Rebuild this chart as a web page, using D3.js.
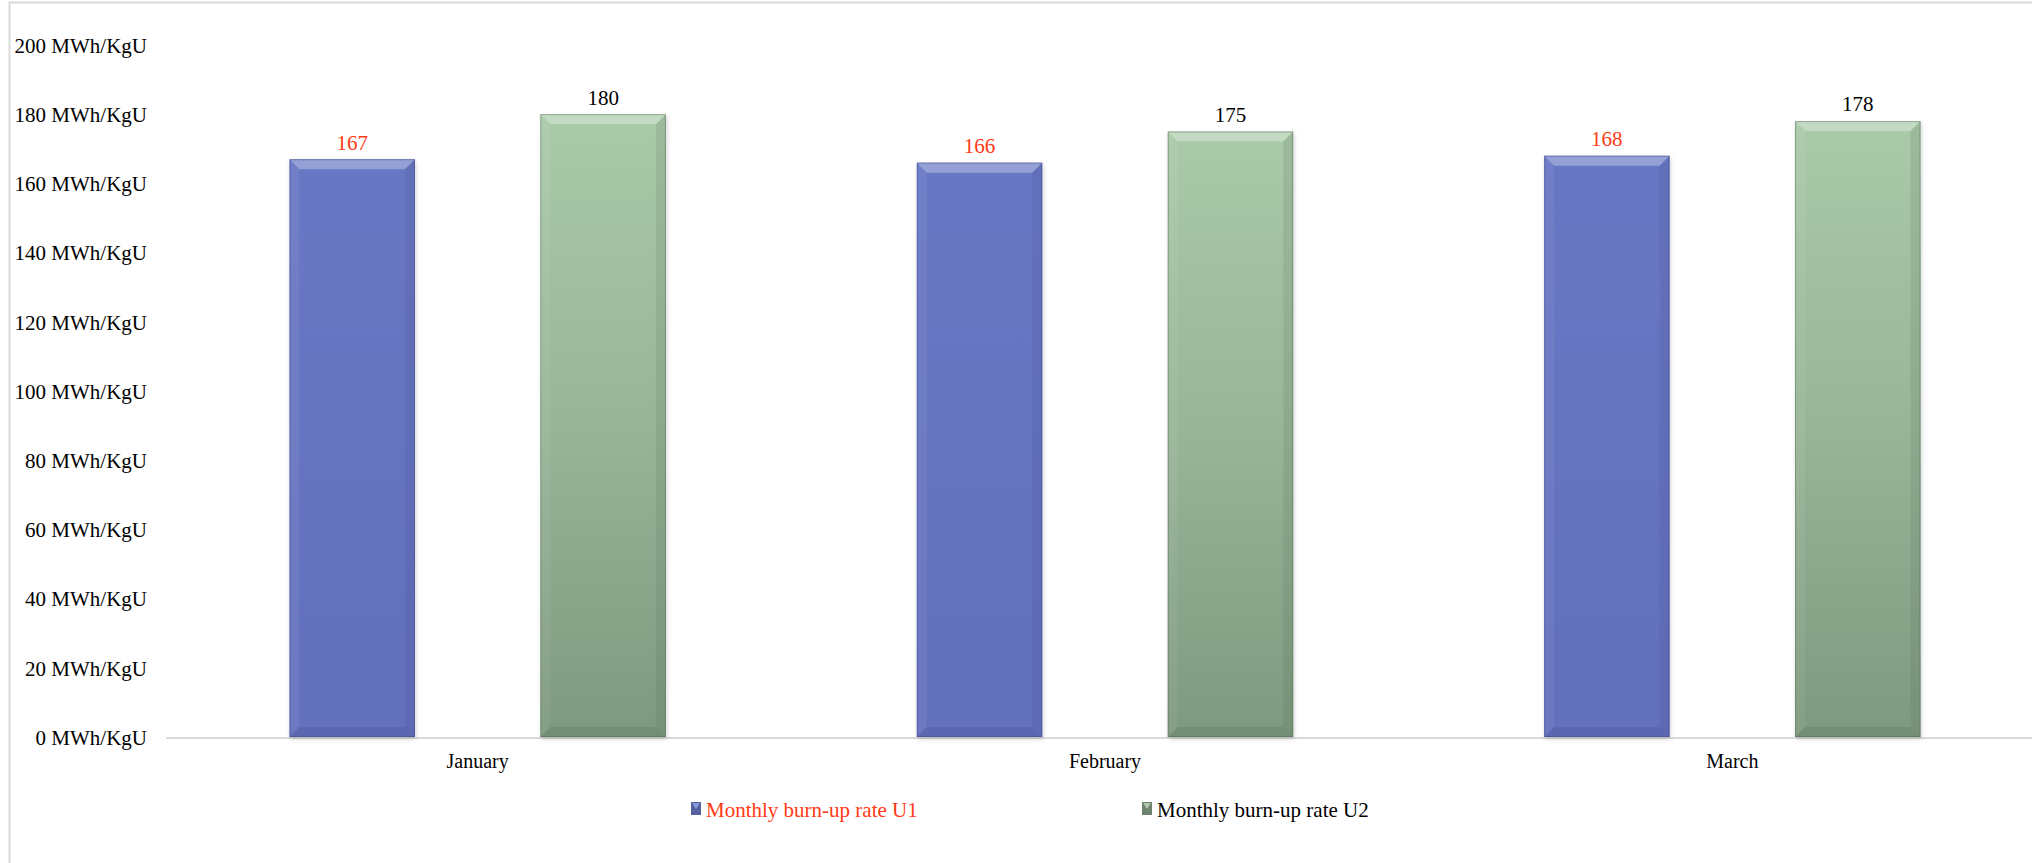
<!DOCTYPE html>
<html>
<head>
<meta charset="utf-8">
<script src="https://cdn.jsdelivr.net/npm/d3@7"></script>
<style>
  html, body { margin: 0; padding: 0; background: #ffffff; }
  svg { display: block; }
  text { font-family: "Liberation Serif", "Times New Roman", serif; }
</style>
</head>
<body>
<svg id="chart" width="2032" height="863"></svg>
<script>
// Monthly burn-up rate per unit (MWh/KgU)
const months = ["January", "February", "March"];
const seriesNames = ["Monthly burn-up rate U1", "Monthly burn-up rate U2"];
const burnupU1 = [167, 166, 168];
const burnupU2 = [180, 175, 178];
const yTicks = [0, 20, 40, 60, 80, 100, 120, 140, 160, 180, 200];
const yUnit = "MWh/KgU";

const svg = d3.select("#chart");
const W = 2032, H = 863;

const rows = months.map((m, i) => ({ month: m, values: [burnupU1[i], burnupU2[i]] }));

// Plot area: the category band continues past the right edge of the frame
const plot = { left: 164, right: 2046, top: 45, bottom: 737 };

const x0 = d3.scaleBand().domain(months).range([plot.left, plot.right]).padding(0);
const x1 = d3.scaleBand().domain([0, 1])
  .range([x0.bandwidth() * 0.2, x0.bandwidth() * 0.8])
  .paddingInner(0.5).paddingOuter(0);
const y = d3.scaleLinear().domain([0, 200]).range([plot.bottom, plot.top]);

const defs = svg.append("defs");

const gBlue = defs.append("linearGradient").attr("id", "fillU1")
  .attr("x1", 0).attr("y1", 0).attr("x2", 0).attr("y2", 1);
gBlue.append("stop").attr("offset", "0%").attr("stop-color", "#6877c4");
gBlue.append("stop").attr("offset", "100%").attr("stop-color", "#6370bc");

const gGreen = defs.append("linearGradient").attr("id", "fillU2")
  .attr("x1", 0).attr("y1", 0).attr("x2", 0).attr("y2", 1);
gGreen.append("stop").attr("offset", "0%").attr("stop-color", "#aacaa9");
gGreen.append("stop").attr("offset", "50%").attr("stop-color", "#98b598");
gGreen.append("stop").attr("offset", "100%").attr("stop-color", "#7e997f");

const shadow = defs.append("filter").attr("id", "barShadow")
  .attr("x", "-10%").attr("y", "-5%").attr("width", "125%").attr("height", "115%");
shadow.append("feDropShadow").attr("dx", 1).attr("dy", 2).attr("stdDeviation", 2)
  .attr("flood-color", "#000").attr("flood-opacity", 0.18);

const fills = ["url(#fillU1)", "url(#fillU2)"];
const edgeDark = ["#3d4780", "#4d654e"];
const labelColors = ["#ff3a14", "#000000"];

// Chart frame
svg.append("rect")
  .attr("x", 9.5).attr("y", 2.5).attr("width", W + 50).attr("height", H + 50)
  .attr("fill", "none").attr("stroke", "#d9d9d9").attr("stroke-width", 2);

// Y axis tick labels
const yAxis = d3.axisLeft(y).tickValues(yTicks).tickSize(0).tickPadding(0)
  .tickFormat(d => `${d} ${yUnit}`);
const yG = svg.append("g").attr("transform", "translate(147,0)").call(yAxis);
yG.select(".domain").remove();
yG.selectAll("text")
  .attr("font-family", "Liberation Serif, Times New Roman, serif")
  .attr("font-size", 21).attr("fill", "#000").attr("dy", "0.35em");

// Category axis baseline and labels
const xAxis = d3.axisBottom(x0).tickSize(0).tickPadding(0);
const xG = svg.append("g").attr("transform", `translate(0,${y(0) + 1})`).call(xAxis);
xG.select(".domain").attr("stroke", "#d9d9d9").attr("stroke-width", 2)
  .attr("d", `M${plot.left + 2},0H${W + 20}`);
xG.selectAll("text")
  .attr("font-family", "Liberation Serif, Times New Roman, serif")
  .attr("font-size", 20).attr("fill", "#000").attr("y", 23).attr("dy", "0.35em");

// Bars with bevelled edges
const groups = svg.append("g").selectAll("g.month").data(rows).join("g")
  .attr("class", "month")
  .attr("transform", d => `translate(${x0(d.month)},0)`);

const bars = groups.selectAll("g.bar")
  .data(d => d.values.map((v, s) => ({ v, s })))
  .join("g").attr("class", "bar");

bars.each(function (d) {
  const g = d3.select(this);
  const bx = x1(d.s), bw = x1.bandwidth();
  const by = y(d.v), bh = y(0) - y(d.v);
  const b = 10;
  g.append("rect").attr("x", bx).attr("y", by).attr("width", bw).attr("height", bh)
    .attr("fill", fills[d.s]).attr("filter", "url(#barShadow)");
  // top bevel (light)
  g.append("path")
    .attr("d", `M${bx},${by}L${bx + bw},${by}L${bx + bw - b},${by + b}L${bx + b},${by + b}Z`)
    .attr("fill", "#ffffff").attr("opacity", 0.3);
  // left bevel
  g.append("path")
    .attr("d", `M${bx},${by}L${bx + b},${by + b}L${bx + b},${by + bh - b}L${bx},${by + bh}Z`)
    .attr("fill", "#ffffff").attr("opacity", 0.06);
  // right bevel (shaded)
  g.append("path")
    .attr("d", `M${bx + bw},${by}L${bx + bw},${by + bh}L${bx + bw - b},${by + bh - b}L${bx + bw - b},${by + b}Z`)
    .attr("fill", edgeDark[d.s]).attr("opacity", 0.14);
  // bottom bevel (shaded)
  g.append("path")
    .attr("d", `M${bx},${by + bh}L${bx + bw},${by + bh}L${bx + bw - b},${by + bh - b}L${bx + b},${by + bh - b}Z`)
    .attr("fill", edgeDark[d.s]).attr("opacity", 0.2);
  // thin outline
  g.append("rect").attr("x", bx + 0.5).attr("y", by + 0.5).attr("width", bw - 1).attr("height", bh - 1)
    .attr("fill", "none").attr("stroke", edgeDark[d.s]).attr("stroke-opacity", 0.45).attr("stroke-width", 1);
  // value label
  g.append("text")
    .attr("x", bx + bw / 2).attr("y", by - 17).attr("dy", "0.35em")
    .attr("text-anchor", "middle").attr("font-size", 21)
    .attr("fill", labelColors[d.s]).text(d.v);
});

// Legend
const legendItems = [
  { name: seriesNames[0], x: 691, fill: "#55619f", light: "#9aa6e0", color: labelColors[0] },
  { name: seriesNames[1], x: 1142, fill: "#6d826d", light: "#c2d7c1", color: "#000000" }
];
const legend = svg.append("g").selectAll("g").data(legendItems).join("g")
  .attr("transform", d => `translate(${d.x},802)`);
legend.append("rect").attr("width", 10).attr("height", 13).attr("fill", d => d.fill);
legend.append("path").attr("d", "M1,1L9,1L5,7Z").attr("fill", d => d.light).attr("opacity", 0.8);
legend.append("text")
  .attr("x", 15).attr("y", 8).attr("dy", "0.35em")
  .attr("font-size", 21).attr("fill", d => d.color).text(d => d.name);
</script>
</body>
</html>
